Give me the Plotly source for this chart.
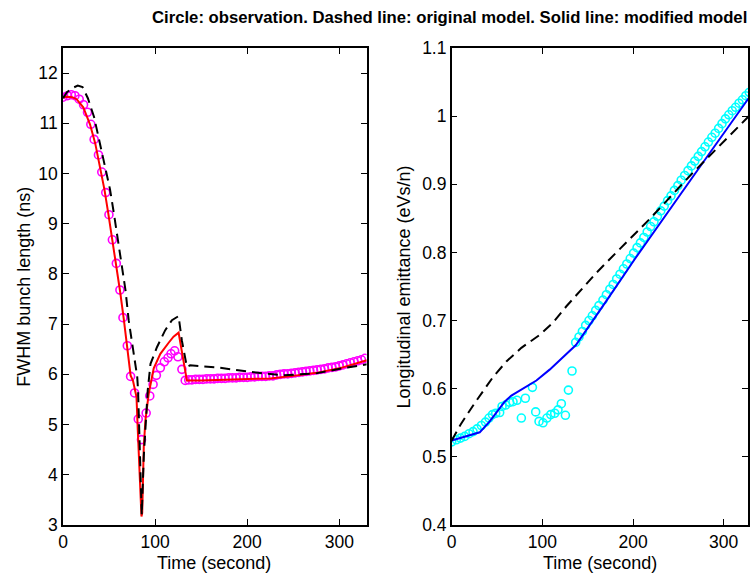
import plotly.graph_objects as go

# ---------------- Left panel: FWHM bunch length ----------------
obs1_t = [0, 5, 9, 13, 17.6, 22.3, 26.6, 30.2, 33.8, 38.5, 42.1, 46.4, 49.9, 53.6, 57.9, 61.8,
          65.1, 69.8, 73.4, 77.7, 81.7, 85.2, 90.3, 94.2, 97.8, 101.4, 105.7, 110, 114, 117.3,
          121.2, 124.8, 129.1, 132.7, 136.5, 140, 144, 148, 152, 156, 160, 164, 168, 172, 176,
          180, 184, 188, 192, 196, 200, 204, 208, 212, 216, 220, 224, 228, 232, 236, 240, 244,
          248, 252, 256, 260, 264, 268, 272, 276, 280, 284, 288, 292, 296, 300, 304, 308, 312,
          316, 320, 324, 328]
obs1_y = [11.52, 11.55, 11.57, 11.55, 11.48, 11.37, 11.22, 10.98, 10.68, 10.37, 10.03, 9.62, 9.18,
          8.68, 8.21, 7.68, 7.13, 6.57, 5.96, 5.63, 5.11, 4.70, 5.23, 5.57, 5.80, 5.98, 6.13, 6.25,
          6.33, 6.41, 6.47, 6.35, 6.10, 5.88, 5.89, 5.89, 5.90, 5.90, 5.90, 5.91, 5.91, 5.91, 5.92,
          5.92, 5.92, 5.93, 5.93, 5.93, 5.94, 5.94, 5.94, 5.95, 5.95, 5.96, 5.96, 5.96, 5.97, 5.97,
          5.99, 6.00, 6.01, 6.01, 6.02, 6.03, 6.04, 6.05, 6.06, 6.07, 6.08, 6.09, 6.10, 6.11, 6.13,
          6.14, 6.15, 6.17, 6.19, 6.21, 6.23, 6.25, 6.27, 6.29, 6.32]

mod1_t = [0, 5, 10, 14.8, 22, 29.3, 35, 40.2, 45, 49.2, 53.6, 58, 62, 66, 70, 73.4, 76, 79.8,
          81.2, 83.4, 85.2, 86, 87.7, 89.5, 93.1, 98.5, 105.7, 114.7, 120, 125.5, 134.5, 150,
          175, 200, 225, 250, 275, 300, 310, 320, 330]
mod1_y = [11.52, 11.53, 11.52, 11.48, 11.32, 10.98, 10.6, 10.12, 9.68, 9.2, 8.68, 8.15, 7.65,
          7.1, 6.55, 5.98, 5.87, 5.55, 4.89, 3.9, 3.17, 3.24, 4.56, 5.09, 5.62, 6.12, 6.41, 6.63,
          6.75, 6.83, 5.88, 5.88, 5.89, 5.90, 5.92, 5.97, 6.03, 6.12, 6.17, 6.22, 6.28]

orig1_t = [0, 4.3, 10, 16, 21.2, 27, 33.8, 39.2, 44.6, 51, 55.3, 59, 63.3, 67.9, 71.3, 76.2,
           80.6, 81.5, 83.4, 85.5, 87.7, 92, 95, 102, 111, 118.3, 125.5, 129, 134.5, 138, 167,
           203, 238.7, 274.7, 303.5, 330]
orig1_y = [11.5, 11.62, 11.7, 11.75, 11.72, 11.5, 11.12, 10.68, 10.18, 9.69, 9.2, 8.73, 8.2,
           7.67, 7.08, 6.48, 5.95, 5.68, 4.36, 3.2, 4.36, 5.68, 6.21, 6.54, 6.88, 7.08, 7.16,
           6.68, 6.15, 6.18, 6.14, 6.05, 5.98, 6.02, 6.12, 6.2]

# ---------------- Right panel: longitudinal emittance ----------------
obs2_t = [0, 5.1, 9.6, 14.3, 19.1, 23.5, 27.9, 32.7, 37.2, 41.1, 44.9, 48.5, 52.9, 55.5, 59.5,
          63.9, 67.6, 72, 76.8, 81.2, 89, 92.6, 96.3, 100.7, 105, 109.2, 113.6, 117.2, 120.9,
          125.4, 128.7, 132.7, 136.7, 140.4, 144.1, 147.7, 151.4, 155.1, 158.8, 162.4, 166.8,
          170.6, 174.4, 178.1, 181.9, 185.6, 189.4, 193.1, 196.9, 200.6, 204.4, 208.1, 211.9,
          215.6, 219.4, 223.1, 226.9, 230.6, 234.4, 238.1, 241.9, 245.6, 249.4, 253.1, 256.9,
          260.6, 264.4, 268.1, 271.9, 275.6, 279.4, 283.1, 286.9, 290.6, 294.4, 298.1, 301.9,
          305.6, 309.4, 313.1, 316.9, 320.6, 324.4, 328.1]
obs2_y = [0.522, 0.525, 0.5275, 0.530, 0.534, 0.537, 0.541, 0.546, 0.551, 0.557, 0.562, 0.564,
          0.565, 0.574, 0.576, 0.580, 0.581, 0.583, 0.557, 0.586, 0.602, 0.566, 0.552, 0.550,
          0.557, 0.562, 0.564, 0.569, 0.578, 0.561, 0.598, 0.626, 0.668, 0.676, 0.684, 0.693,
          0.700, 0.707, 0.715, 0.722, 0.730, 0.738, 0.746, 0.753, 0.761, 0.768, 0.776, 0.783,
          0.791, 0.799, 0.807, 0.814, 0.822, 0.830, 0.838, 0.845, 0.853, 0.861, 0.868, 0.876,
          0.883, 0.891, 0.898, 0.906, 0.913, 0.920, 0.927, 0.934, 0.941, 0.948, 0.955, 0.962,
          0.969, 0.975, 0.982, 0.989, 0.996, 1.002, 1.008, 1.013, 1.019, 1.024, 1.030, 1.035]

mod2_t = [0, 30.9, 41.9, 58.4, 65.8, 80.5, 93.4, 108, 122.7, 137, 170.6, 201.8, 266, 330]
mod2_y = [0.524, 0.536, 0.552, 0.581, 0.590, 0.602, 0.612, 0.628, 0.647, 0.664, 0.729, 0.790,
          0.911, 1.031]

orig2_t = [0, 10, 25.4, 38.3, 45.5, 60.3, 76.8, 97, 111.7, 126.5, 141.1, 159.5, 174.2, 218.3,
           266, 310, 330]
orig2_y = [0.524, 0.548, 0.579, 0.603, 0.617, 0.640, 0.660, 0.679, 0.697, 0.721, 0.743, 0.770,
           0.790, 0.849, 0.917, 0.976, 1.003]

x_ticks = [0, 100, 200, 300]
y1_ticks = [3, 4, 5, 6, 7, 8, 9, 10, 11, 12]
y2_ticks = [0.4, 0.5, 0.6, 0.7, 0.8, 0.9, 1.0, 1.1]
y2_ticktext = ["0.4", "0.5", "0.6", "0.7", "0.8", "0.9", "1", "1.1"]

title_text = "Circle: observation. Dashed line: original model. Solid line: modified model"
xlabel = "Time (second)"
ylabel1 = "FWHM bunch length (ns)"
ylabel2 = "Longitudinal emittance (eVs/n)"

# ---------------- Layout geometry ----------------
W, H = 752, 576
L, R, T, B = 63, 3.7, 48, 50.5
PW = W - L - R
PH = H - T - B
left_dom = [0, 303.7 / PW]
right_dom = [(451.9 - L) / PW, 1]

FONT = "Liberation Sans, Arial, Helvetica, sans-serif"
dash = "10px,6px"

fig = go.Figure()
# left
fig.add_trace(go.Scatter(x=obs1_t, y=obs1_y, mode="markers", xaxis="x", yaxis="y",
                         marker=dict(symbol="circle-open", size=8, color="#ff00ff",
                                     line=dict(width=1.6, color="#ff00ff"))))
fig.add_trace(go.Scatter(x=mod1_t, y=mod1_y, mode="lines", xaxis="x", yaxis="y",
                         line=dict(color="#ff0000", width=2)))
fig.add_trace(go.Scatter(x=orig1_t, y=orig1_y, mode="lines", xaxis="x", yaxis="y",
                         line=dict(color="black", width=2, dash=dash)))
# right
fig.add_trace(go.Scatter(x=obs2_t, y=obs2_y, mode="markers", xaxis="x2", yaxis="y2",
                         marker=dict(symbol="circle-open", size=8, color="#00ffff",
                                     line=dict(width=1.6, color="#00ffff"))))
fig.add_trace(go.Scatter(x=mod2_t, y=mod2_y, mode="lines", xaxis="x2", yaxis="y2",
                         line=dict(color="#0000ff", width=2)))
fig.add_trace(go.Scatter(x=orig2_t, y=orig2_y, mode="lines", xaxis="x2", yaxis="y2",
                         line=dict(color="black", width=2, dash=dash)))

axis_common = dict(showline=True, linecolor="black", linewidth=1.5, mirror="ticks",
                   ticks="inside", ticklen=6, tickwidth=1, tickcolor="black",
                   showgrid=False, zeroline=False,
                   tickfont=dict(family=FONT, size=17.5, color="black"))

fig.update_layout(
    width=W, height=H,
    margin=dict(l=L, r=R, t=T, b=B, pad=0),
    paper_bgcolor="white", plot_bgcolor="white",
    showlegend=False,
    xaxis=dict(domain=left_dom, range=[0, 329.6], tickvals=x_ticks, anchor="y", **axis_common),
    yaxis=dict(domain=[0, 1], range=[3, 12.5], tickvals=y1_ticks, anchor="x", **axis_common),
    xaxis2=dict(domain=right_dom, range=[0, 326.8], tickvals=x_ticks, anchor="y2", **axis_common),
    yaxis2=dict(domain=[0, 1], range=[0.4, 1.1], tickvals=y2_ticks, ticktext=y2_ticktext,
                anchor="x2", **axis_common),
)

def px_x(p):
    return (p - L) / PW

def px_y(p):
    return 1 - (p - T) / PH

ann_font = dict(family=FONT, size=18, color="black")
fig.add_annotation(text="<b>" + title_text + "</b>", x=px_x(749), y=px_y(17),
                   xref="paper", yref="paper", showarrow=False, xanchor="right",
                   yanchor="middle", font=dict(family=FONT, size=16.7, color="black"))
fig.add_annotation(text=xlabel, x=px_x(214.5), y=px_y(564), xref="paper", yref="paper",
                   showarrow=False, xanchor="center", yanchor="middle", font=ann_font)
fig.add_annotation(text=xlabel, x=px_x(600), y=px_y(564), xref="paper", yref="paper",
                   showarrow=False, xanchor="center", yanchor="middle", font=ann_font)
fig.add_annotation(text=ylabel1, x=px_x(24), y=px_y(287), xref="paper", yref="paper",
                   showarrow=False, xanchor="center", yanchor="middle", textangle=-90,
                   font=ann_font)
fig.add_annotation(text=ylabel2, x=px_x(404), y=px_y(287), xref="paper", yref="paper",
                   showarrow=False, xanchor="center", yanchor="middle", textangle=-90,
                   font=ann_font)

fig.write_html("out.html")
